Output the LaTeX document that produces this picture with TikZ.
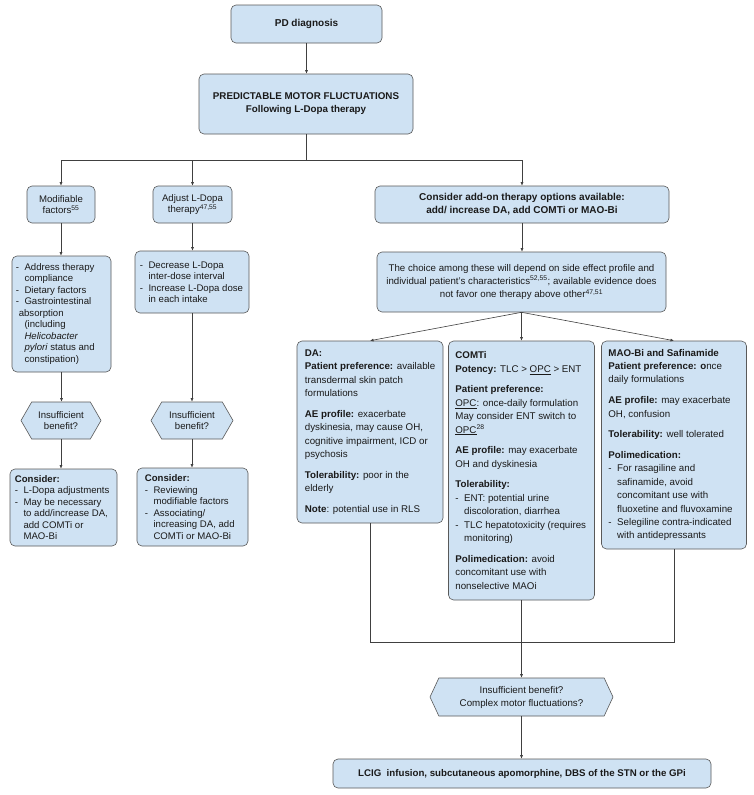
\documentclass[tikz,border=0pt]{standalone}
\usepackage{fontspec}
\setmainfont{Liberation Sans}
\usetikzlibrary{arrows.meta,shapes.symbols,calc}
\definecolor{boxfill}{HTML}{CFE2F3}
\definecolor{boxline}{HTML}{595959}
\definecolor{connc}{HTML}{404040}
\definecolor{txtc}{HTML}{1A1A1A}
\newcommand\myb{\makebox[0.9em][l]{-}}
\newcommand\myc{\hspace*{0.9em}}
\tikzset{
 box/.style={draw=boxline, fill=boxfill, rounded corners=5pt, line width=0.6pt, inner sep=0pt, text=txtc, align=center},
 hexa/.style={draw=boxline, fill=boxfill, line width=0.6pt, inner sep=0pt, shape=signal, signal to=east and west, signal pointer angle=120, text=txtc, align=center},
 txtl/.style={inner sep=0pt, align=left, text=txtc, anchor=west},
 fl/.style={font=\fontsize{9.6}{11.5}\selectfont},
 fr/.style={font=\fontsize{9.75}{13.4}\selectfont},
 conn/.style={draw=connc, line width=0.6pt},
 arr/.style={conn, -{Latex[length=3.5pt,width=3pt]}},
}
\begin{document}
\begin{tikzpicture}[x=1pt,y=-1pt]
\useasboundingbox[fill=white] (0,0) rectangle (753,795);

% top
\node[box, font=\bfseries\fontsize{10}{12.8}\selectfont, minimum width=151pt, minimum height=38pt] (pd) at (306.5,24) {PD diagnosis};
\node[box, font=\bfseries\fontsize{9.8}{13}\selectfont, minimum width=214pt, minimum height=60pt] (pred) at (306,104) {PREDICTABLE MOTOR FLUCTUATIONS\\Following L-Dopa therapy};

% second row
\node[box, fl, minimum width=68pt, minimum height=37pt] (mod) at (61,204.5) {Modifiable\\factors\textsuperscript{55}};
\node[box, fl, minimum width=79pt, minimum height=37pt] (adj) at (192.5,204.5) {Adjust L-Dopa\\therapy\textsuperscript{47,55}};
\node[box, font=\bfseries\fontsize{10}{12.8}\selectfont, minimum width=294pt, minimum height=37pt] (addon) at (522,204.5) {Consider add-on therapy options available:\\add/ increase DA, add COMTi or MAO-Bi};

% left column
\node[box, minimum width=99pt, minimum height=116pt] (ldet) at (61.5,314) {};
\node[txtl, fl] (ldett) at ([xshift=4pt]ldet.west) {\myb Address therapy\\\myc compliance\\\myb Dietary factors\\\myb Gastrointestinal\\\hspace*{0.3em}absorption\\\myc(including\\\myc\textit{Helicobacter}\\\myc\textit{pylori} status and\\\myc constipation)};
\node[hexa, fl, minimum width=80pt, minimum height=37pt] (hexl) at (61,420.5) {Insufficient\\benefit?};
\node[box, minimum width=107pt, minimum height=77pt] (consl) at (63.5,507.5) {};
\node[txtl, fl] (conslt) at ([xshift=5pt]consl.west) {\textbf{Consider:}\\\myb L-Dopa adjustments\\\myb May be necessary\\\myc to add/increase DA,\\\myc add COMTi or\\\myc MAO-Bi};

% middle column
\node[box, minimum width=114pt, minimum height=62pt] (mdet) at (192,282) {};
\node[txtl, fl] (mdett) at ([xshift=5pt]mdet.west) {\myb Decrease L-Dopa\\\myc inter-dose interval\\\myb Increase L-Dopa dose\\\myc in each intake};
\node[hexa, fl, minimum width=82pt, minimum height=37pt] (hexm) at (192,420.5) {Insufficient\\benefit?};
\node[box, minimum width=111pt, minimum height=78pt] (consm) at (192.5,507) {};
\node[txtl, fl] (consmt) at ([xshift=8pt]consm.west) {\textbf{Consider:}\\\myb Reviewing\\\myc modifiable factors\\\myb Associating/\\\myc increasing DA, add\\\myc COMTi or MAO-Bi};

% right part
\node[box, font=\fontsize{9.7}{13.3}\selectfont, minimum width=289pt, minimum height=60pt] (choice) at (521.5,282) {The choice among these will depend on side effect profile and\\individual patient's characteristics\textsuperscript{52,55}; available evidence does\\not favor one therapy above other\textsuperscript{47,51}};

\node[box, minimum width=146pt, minimum height=182pt] (da) at (370,432) {};
\node[txtl, fr] (dat) at ([xshift=8pt]da.west) {\textbf{DA:}\\\textbf{Patient preference:} available\\transdermal skin patch\\formulations\\[7.3pt]\textbf{AE profile:} exacerbate\\dyskinesia, may cause OH,\\cognitive impairment, ICD or\\psychosis\\[7.3pt]\textbf{Tolerability:} poor in the\\elderly\\[7.3pt]\textbf{Note}: potential use in RLS};

\node[box, minimum width=146pt, minimum height=259pt] (comti) at (521.5,470.5) {};
\node[txtl, fr] (comtit) at ([xshift=7pt]comti.west) {\textbf{COMTi}\\\textbf{Potency:} TLC > \underline{OPC} > ENT\\[7.3pt]\textbf{Patient preference:}\\\underline{OPC}: once-daily formulation\\May consider ENT switch to\\\underline{OPC}\textsuperscript{28}\\[7.3pt]\textbf{AE profile:} may exacerbate\\OH and dyskinesia\\[7.3pt]\textbf{Tolerability:}\\\myb ENT: potential urine\\\myc discoloration, diarrhea\\\myb TLC hepatotoxicity (requires\\\myc monitoring)\\[7.3pt]\textbf{Polimedication:} avoid\\concomitant use with\\nonselective MAOi};

\node[box, minimum width=145pt, minimum height=208pt] (mao) at (674,445) {};
\node[txtl, fr] (maot) at ([xshift=7pt]mao.west) {\textbf{MAO-Bi and Safinamide}\\\textbf{Patient preference: o}nce\\daily formulations\\[7.3pt]\textbf{AE profile:} may exacerbate\\OH, confusion\\[7.3pt]\textbf{Tolerability:} well tolerated\\[7.3pt]\textbf{Polimedication:}\\\myb For rasagiline and\\\myc safinamide, avoid\\\myc concomitant use with\\\myc fluoxetine and fluvoxamine\\\myb Selegiline contra-indicated\\\myc with antidepressants};

\node[hexa, font=\fontsize{9.75}{13}\selectfont, signal pointer angle=130, minimum width=183pt, minimum height=38pt] (hexb) at (521.5,697) {Insufficient benefit?\\Complex motor fluctuations?};
\node[box, font=\bfseries\fontsize{9.7}{12}\selectfont, minimum width=378pt, minimum height=29pt] (lcig) at (522,773.5) {LCIG\ \ infusion, subcutaneous apomorphine, DBS of the STN or the GPi};

% connectors
\coordinate (split) at (306,160);
\coordinate (lvl) at (0,642);
\draw[arr] (pd.south) -- (pd.south |- pred.north);
\draw[conn] (pred.south) -- (split);
\draw[arr] (split) -| (mod.north);
\draw[arr] (split) -| (adj.north);
\draw[arr] (split) -| (addon.north);

\draw[arr] (mod.south) -- (mod.south |- ldet.north);
\draw[arr] (ldet.south) -- (ldet.south |- hexl.north);
\draw[arr] (hexl.south) -- (hexl.south |- consl.north);

\draw[arr] (adj.south) -- (adj.south |- mdet.north);
\draw[arr] (mdet.south) -- (mdet.south |- hexm.north);
\draw[arr] (hexm.south) -- (hexm.south |- consm.north);

\draw[arr] (addon.south) -- (addon.south |- choice.north);
\draw[arr] (choice.south) -- (da.north);
\draw[arr] (choice.south) -- (comti.north);
\draw[arr] (choice.south) -- (mao.north);

\coordinate (jl) at (da.south |- lvl);
\coordinate (jr) at (mao.south |- lvl);
\draw[conn] (da.south) -- (jl) -- (jr) -- (mao.south);
\draw[arr] (comti.south) -- (comti.south |- hexb.north);
\draw[arr] (hexb.south) -- (hexb.south |- lcig.north);
\end{tikzpicture}
\end{document}
